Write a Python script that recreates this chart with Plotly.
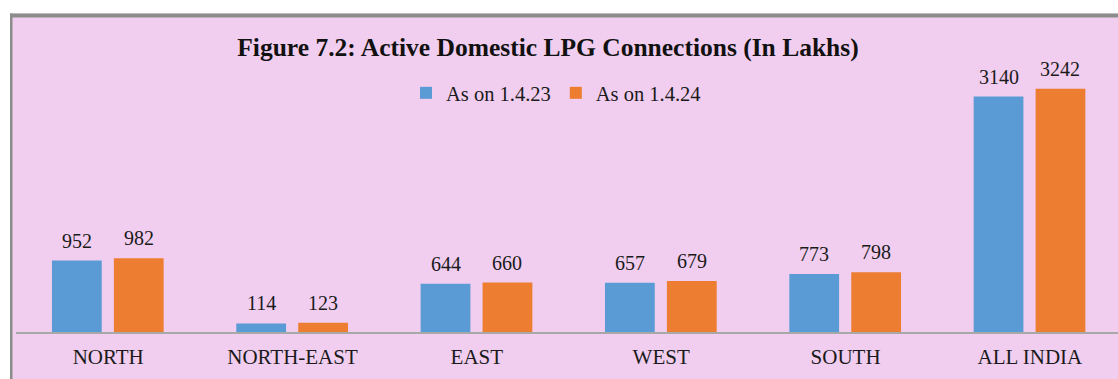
import plotly.graph_objects as go

# Active domestic LPG connections by region (in lakhs)
regions = ["NORTH", "NORTH-EAST", "EAST", "WEST", "SOUTH", "ALL INDIA"]
as_on_2023 = [952, 114, 644, 657, 773, 3140]
as_on_2024 = [982, 123, 660, 679, 798, 3242]
series_names = ["As on 1.4.23", "As on 1.4.24"]

BLUE = "#5B9BD5"
ORANGE = "#ED7D31"
PINK = "#F1CEEF"
FONT = "Liberation Serif"
TEXT = "#1a1a1a"

W, H = 1118, 379
ML, MR, MT, MB = 16, 0, 17, 47

bar_w = 0.27
offsets = [-0.305, 0.031]

fig = go.Figure()
for name, vals, col, off in zip(series_names, [as_on_2023, as_on_2024],
                                [BLUE, ORANGE], offsets):
    fig.add_trace(go.Bar(
        x=list(range(len(regions))), y=vals, name=name,
        marker=dict(color=col, line=dict(width=0)),
        width=bar_w, offset=off,
    ))
    for i, v in enumerate(vals):
        fig.add_annotation(
            x=i + off + bar_w / 2, y=v, text=str(v), showarrow=False,
            yanchor="middle", yshift=20,
            font=dict(family=FONT, size=20, color=TEXT),
        )

# frame: white margin strips and grey border lines around the pink panel
pw = W - ML - MR
ph = H - MT - MB
def px_x(p):
    return (p - ML) / pw
def px_y(p):
    return (H - MB - p) / ph

shapes = [
    dict(type="rect", xref="paper", yref="paper", x0=px_x(0), x1=px_x(W + 5),
         y0=px_y(13.5), y1=px_y(-5), fillcolor="white", line_width=0, layer="above"),
    dict(type="rect", xref="paper", yref="paper", x0=px_x(-5), x1=px_x(10),
         y0=px_y(H + 5), y1=px_y(-5), fillcolor="white", line_width=0, layer="above"),
    dict(type="rect", xref="paper", yref="paper", x0=px_x(10), x1=px_x(W + 5),
         y0=px_y(17.5), y1=px_y(13.5), fillcolor="#8C8C8C", line_width=0, layer="above"),
    dict(type="rect", xref="paper", yref="paper", x0=px_x(10), x1=px_x(12.5),
         y0=px_y(H + 5), y1=px_y(13.5), fillcolor="#8C8C8C", line_width=0, layer="above"),
]

fig.update_layout(
    width=W, height=H,
    margin=dict(l=ML, r=MR, t=MT, b=MB, pad=0),
    paper_bgcolor=PINK, plot_bgcolor=PINK,
    barmode="group",
    showlegend=True,
    shapes=shapes,
    title=dict(
        text="<b>Figure 7.2: Active Domestic LPG Connections (In Lakhs)</b>",
        x=(548 - ML) / pw, xref="paper", xanchor="center",
        y=1 - 47 / H, yref="container", yanchor="middle",
        font=dict(family=FONT, size=25.5, color="#111111"),
    ),
    legend=dict(
        orientation="h", x=(556 - ML) / pw, xanchor="center",
        y=px_y(93), yanchor="middle",
        bgcolor="rgba(0,0,0,0)", font=dict(family=FONT, size=20.5, color=TEXT),
        itemwidth=30, traceorder="normal",
    ),
    xaxis=dict(
        tickmode="array", tickvals=list(range(len(regions))), ticktext=regions,
        range=[-0.5, 5.478], showgrid=False, zeroline=False,
        showline=True, linecolor="#A8A8A8", linewidth=1.5,
        ticks="", ticklabelstandoff=5,
        tickfont=dict(family=FONT, size=21, color=TEXT),
    ),
    yaxis=dict(range=[0, ph / 0.075], visible=False, showgrid=False, zeroline=False),
)

fig.write_html("out.html")
